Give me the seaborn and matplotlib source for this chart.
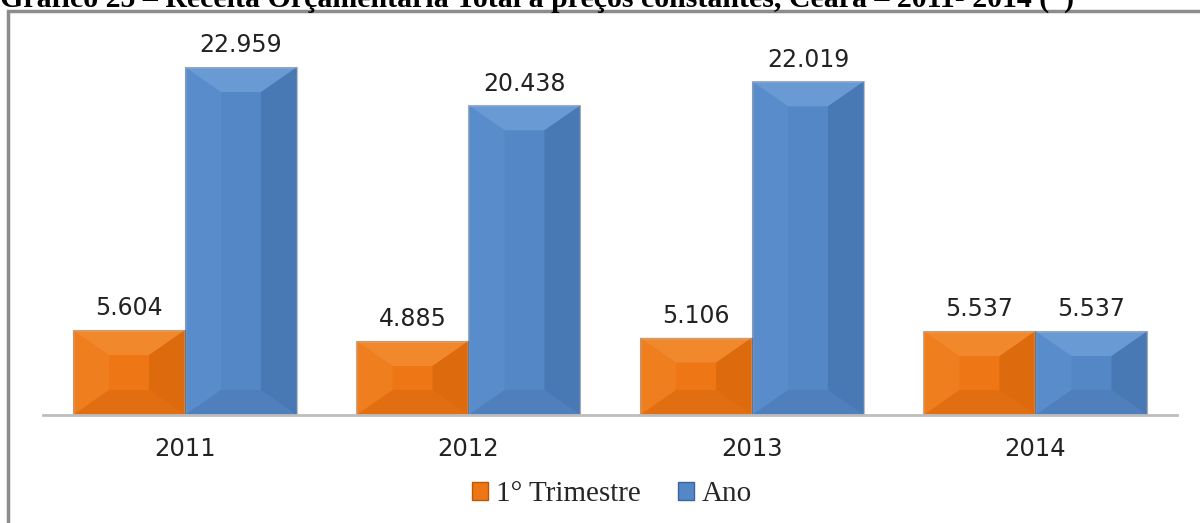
import numpy as np
import pandas as pd
import matplotlib
matplotlib.use("Agg")
import matplotlib.pyplot as plt
from matplotlib.patches import Rectangle, Polygon
import seaborn as sns

anos = ["2011", "2012", "2013", "2014"]
trimestre = [5.604, 4.885, 5.106, 5.537]
ano_total = [22.959, 20.438, 22.019, 5.537]
series = ["1° Trimestre", "Ano"]
titulo = "Gráfico 25 – Receita Orçamentária Total a preços constantes, Ceará – 2011- 2014 (*)"

laranja = "#EE7614"
azul = "#5487C6"

df = pd.DataFrame({
    "ano": anos * 2,
    "valor": trimestre + ano_total,
    "serie": [series[0]] * 4 + [series[1]] * 4,
})

sns.set_theme(style="white")
fig = plt.figure(figsize=(12, 5.23), dpi=100)
ax = fig.add_axes([0.036, 0.2065, 0.945, 0.736])

sns.barplot(data=df, x="ano", y="valor", hue="serie", palette=[laranja, azul],
            width=0.79, saturation=1, legend=False, ax=ax)

ax.set_xlim(-0.5, 3.5)
ax.set_ylim(0, 25.4)
ax.set_xlabel("")
ax.set_ylabel("")
ax.set_yticks([])
for s in ["top", "right", "left"]:
    ax.spines[s].set_visible(False)
ax.spines["bottom"].set_color("#BDBDBD")
ax.spines["bottom"].set_linewidth(2)
ax.tick_params(axis="x", length=0, pad=16, labelsize=17.5, labelcolor="#222222")

# valores acima das barras
for cont in ax.containers:
    ax.bar_label(cont, fmt="{:.3f}", padding=7, fontsize=17, color="#222222")

# efeito de chanfro nas barras
fig.canvas.draw()
inv = ax.transData.inverted()
def px2data(dx, dy):
    p0 = inv.transform((0, 0))
    p1 = inv.transform((dx, dy))
    return p1[0] - p0[0], p1[1] - p0[1]

bx, by = px2data(36, 25)
tons = {
    laranja: ("#F8A04A", "#F2882C", "#C95E08", "#D2660E"),
    azul: ("#86B2E4", "#5F94D2", "#3C68A2", "#4A76B0"),
}
for cont, cor in zip(ax.containers, [laranja, azul]):
    topo, esq, dir_, base = tons[cor]
    for p in cont.patches:
        x0, y0 = p.get_x(), p.get_y()
        w, h = p.get_width(), p.get_height()
        x1, y1 = x0 + w, y0 + h
        ix0, ix1 = x0 + bx, x1 - bx
        iy0, iy1 = y0 + by, y1 - by
        faces = [
            ([(x0, y1), (x1, y1), (ix1, iy1), (ix0, iy1)], topo),
            ([(x0, y0), (x0, y1), (ix0, iy1), (ix0, iy0)], esq),
            ([(x1, y0), (x1, y1), (ix1, iy1), (ix1, iy0)], dir_),
            ([(x0, y0), (x1, y0), (ix1, iy0), (ix0, iy0)], base),
        ]
        for pts, c in faces:
            ax.add_patch(Polygon(pts, closed=True, facecolor=c, edgecolor="none",
                                 alpha=0.45, zorder=p.get_zorder() + 0.1))
        ax.add_patch(Rectangle((x0, y0), w, h, fill=False, edgecolor="#00000040",
                               linewidth=0.8, zorder=p.get_zorder() + 0.2))

# legenda
handles = [Rectangle((0, 0), 1, 1, facecolor=laranja, edgecolor="#B85A0C"),
           Rectangle((0, 0), 1, 1, facecolor=azul, edgecolor="#3A64A0")]
fig.legend(handles, series, loc="center", bbox_to_anchor=(0.51, 0.055), ncol=2,
           frameon=False, handlelength=0.55, handleheight=0.55, handletextpad=0.25,
           columnspacing=1.3, prop={"family": "Liberation Serif", "size": 21})

# moldura e título (cortado no topo, como no original)
fig.add_artist(Rectangle((8 / 1200, -0.05), 1.1, 1 - 11 / 523 + 0.05,
                         transform=fig.transFigure, fill=False,
                         edgecolor="#8C8C8C", linewidth=2.5, clip_on=False))
fig.text(0.0, 1 - 7 / 523, titulo, ha="left", va="baseline",
         fontsize=21.5, fontweight="bold", family="Liberation Serif", color="black")

fig.savefig("out.png", dpi=100)
